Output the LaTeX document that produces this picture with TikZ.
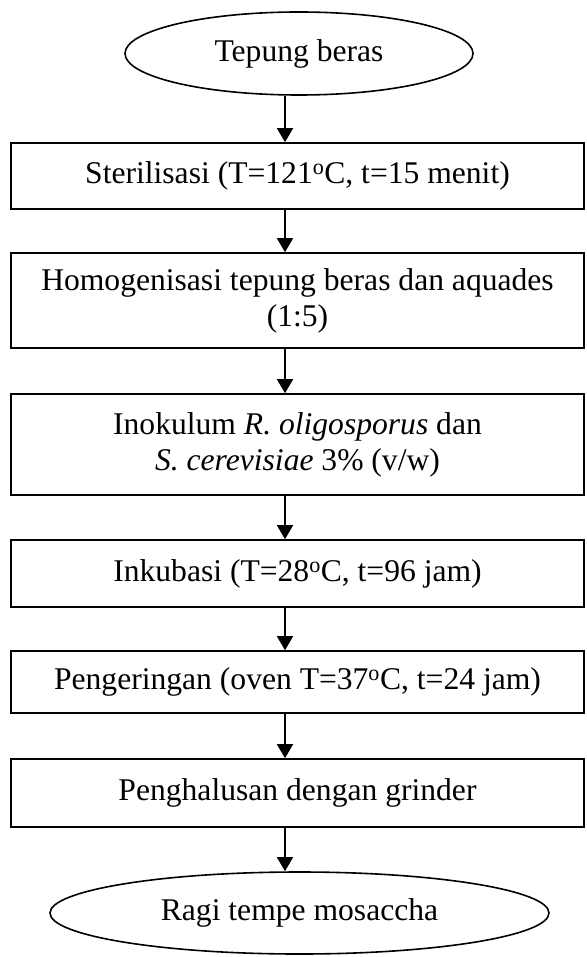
\documentclass[tikz,border=0pt]{standalone}
\usepackage{fontspec}
\setmainfont{Liberation Serif}
\usetikzlibrary{shapes.geometric,arrows.meta}
\begin{document}
\begin{tikzpicture}[x=1pt,y=-1pt,
  txt/.style={font=\fontsize{31.6}{36}\selectfont},
  box/.style={txt, draw, line width=1.6pt, minimum width=573pt, inner sep=0pt, align=center},
  ell/.style={txt, draw, ellipse, line width=1.6pt, inner sep=0pt},
  arr/.style={-{Triangle[width=16pt,length=14pt]}, line width=1.6pt}]
\useasboundingbox (0,0) rectangle (586,957);
\node[ell, minimum width=348pt, minimum height=83pt] (e1) at (299,53.5) {Tepung beras};
\node[box, minimum height=66pt] (b1) at (297.5,176) {Sterilisasi (T=121\textsuperscript{o}C, t=15 menit)};
\node[box, minimum height=95pt] (b2) at (297.5,300.5) {Homogenisasi tepung beras dan aquades\\(1:5)};
\node[box, minimum height=101pt] (b3) at (297.5,444.5) {Inokulum \textit{R. oligosporus} dan\\\textit{S. cerevisiae} 3\% (v/w)};
\node[box, minimum height=67pt] (b4) at (297.5,573.5) {Inkubasi (T=28\textsuperscript{o}C, t=96 jam)};
\node[box, minimum height=62pt] (b5) at (297.5,682) {Pengeringan (oven T=37\textsuperscript{o}C, t=24 jam)};
\node[box, minimum height=68pt] (b6) at (297.5,793) {Penghalusan dengan grinder};
\node[ell, minimum width=499pt, minimum height=82pt] (e2) at (299.5,913) {Ragi tempe mosaccha};
\coordinate (ax) at (285,0);
\draw[arr] (e1.south -| ax) -- (b1.north -| ax);
\draw[arr] (b1.south -| ax) -- (b2.north -| ax);
\draw[arr] (b2.south -| ax) -- (b3.north -| ax);
\draw[arr] (b3.south -| ax) -- (b4.north -| ax);
\draw[arr] (b4.south -| ax) -- (b5.north -| ax);
\draw[arr] (b5.south -| ax) -- (b6.north -| ax);
\draw[arr] (b6.south -| ax) -- (e2.north -| ax);
\end{tikzpicture}
\end{document}
